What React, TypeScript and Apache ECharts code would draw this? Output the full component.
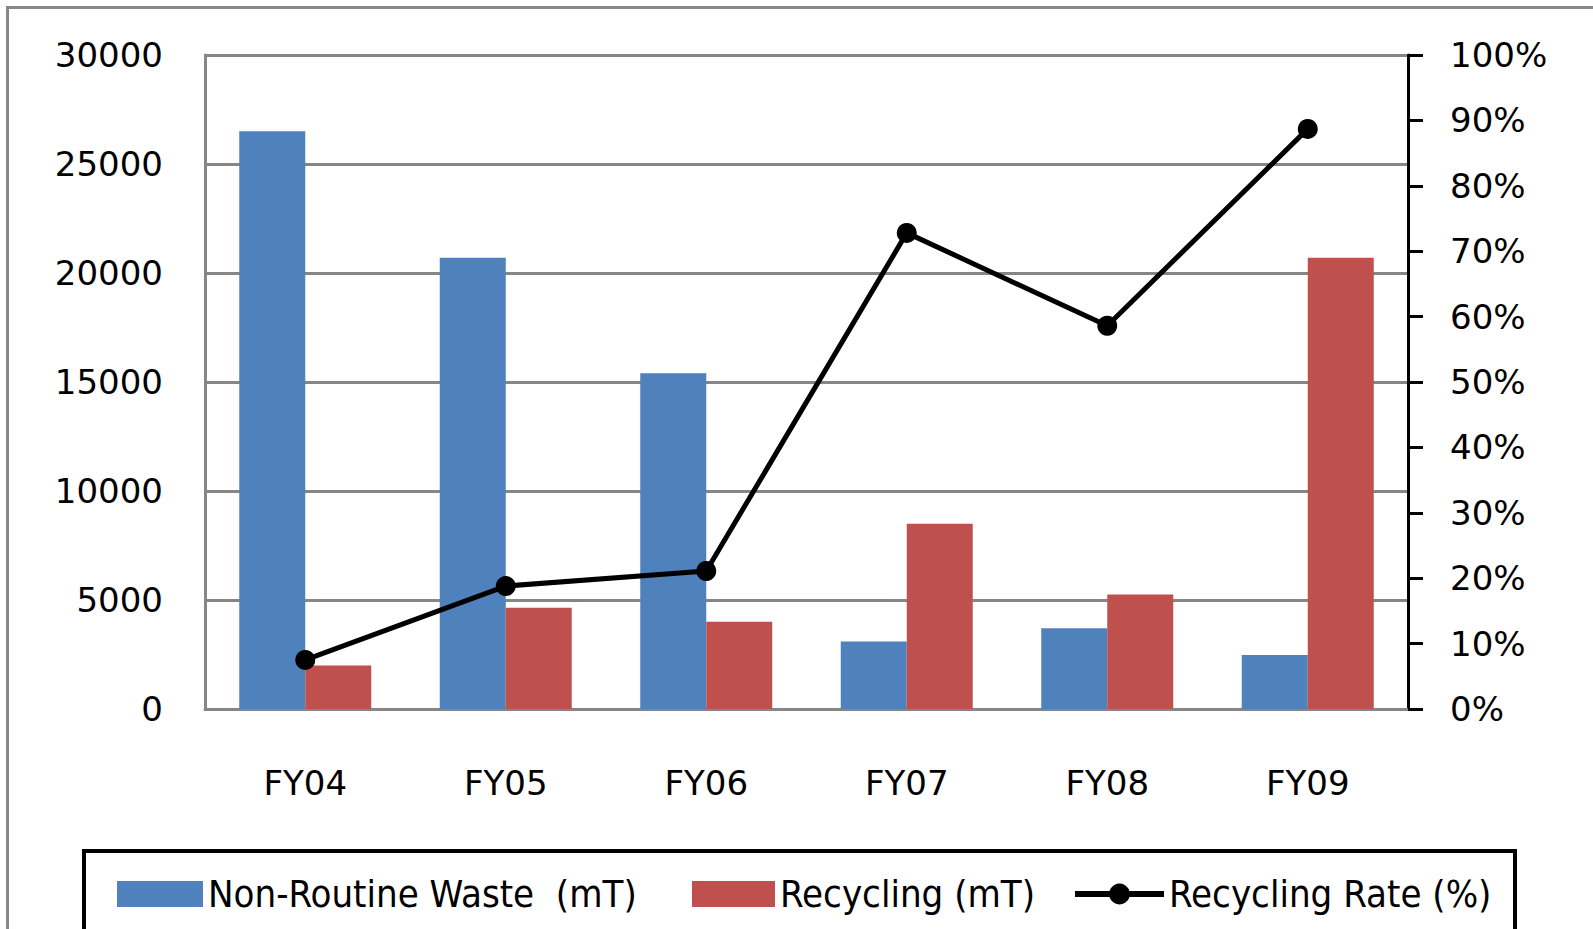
import React, { useEffect, useRef } from "react";
import * as echarts from "echarts";

const categories = ["FY04", "FY05", "FY06", "FY07", "FY08", "FY09"];
const nonRoutineWaste = [26500, 20700, 15400, 3100, 3700, 2480];
const recycling = [2000, 4650, 4000, 8500, 5250, 20700];
const recyclingRate = [7.5, 18.8, 21.1, 72.8, 58.6, 88.7];

const axisFont = "'DejaVu Sans', Verdana, sans-serif";
const legendFont = "'DejaVu Sans Condensed', 'Liberation Sans', sans-serif";

export default function App() {
  const ref = useRef<HTMLDivElement>(null);
  useEffect(() => {
    document.body.style.margin = "0";
    const chart = echarts.init(ref.current!, null, { renderer: "svg" });
    const legendText = { fontFamily: legendFont, fontSize: 38, color: "#000" };
    chart.setOption({
      animation: false,
      backgroundColor: "#fff",
      grid: { left: 205, right: 185, top: 55, bottom: 220, containLabel: false },
      graphic: [
        {
          type: "rect",
          shape: { x: 7.5, y: 7.5, width: 1700, height: 1100 },
          style: { fill: "none", stroke: "#888", lineWidth: 3 },
          silent: true,
        },
        {
          type: "rect",
          shape: { x: 84, y: 851, width: 1431, height: 200 },
          style: { fill: "none", stroke: "#000", lineWidth: 4 },
          silent: true,
        },
      ],
      legend: [
        {
          data: [{ name: "Non-Routine Waste  (mT)", icon: "rect" }],
          left: 117,
          top: 875,
          padding: 0,
          itemWidth: 86,
          itemHeight: 26,
          textStyle: legendText,
        },
        {
          data: [{ name: "Recycling (mT)", icon: "rect" }],
          left: 692,
          top: 875,
          padding: 0,
          itemWidth: 83,
          itemHeight: 26,
          textStyle: legendText,
        },
        {
          data: ["Recycling Rate (%)"],
          left: 1072,
          top: 875,
          padding: 0,
          itemWidth: 89,
          itemHeight: 26,
          lineStyle: { width: 6, color: "#000" },
          textStyle: legendText,
        },
      ],
      xAxis: {
        type: "category",
        data: categories,
        axisLine: { show: true, lineStyle: { color: "#868686", width: 3 } },
        axisTick: { show: false },
        axisLabel: { margin: 57, fontFamily: axisFont, fontSize: 34, color: "#000" },
      },
      yAxis: [
        {
          type: "value",
          min: 0,
          max: 30000,
          interval: 5000,
          axisLine: { show: true, lineStyle: { color: "#868686", width: 3 } },
          axisTick: { show: false },
          splitLine: { show: true, lineStyle: { color: "#868686", width: 3 } },
          axisLabel: {
            margin: 42,
            fontFamily: axisFont,
            fontSize: 34,
            color: "#000",
            formatter: (v: number) => String(v),
          },
        },
        {
          type: "value",
          min: 0,
          max: 100,
          interval: 10,
          position: "right",
          axisLine: { show: true, lineStyle: { color: "#000", width: 3 } },
          axisTick: { show: true, length: 15, lineStyle: { color: "#000", width: 3 } },
          splitLine: { show: false },
          axisLabel: {
            margin: 42,
            fontFamily: axisFont,
            fontSize: 34,
            color: "#000",
            formatter: "{value}%",
          },
        },
      ],
      series: [
        {
          name: "Non-Routine Waste  (mT)",
          type: "bar",
          data: nonRoutineWaste,
          barWidth: 66,
          barGap: "0%",
          itemStyle: { color: "#4F81BD" },
        },
        {
          name: "Recycling (mT)",
          type: "bar",
          data: recycling,
          barWidth: 66,
          barGap: "0%",
          itemStyle: { color: "#C0504D" },
        },
        {
          name: "Recycling Rate (%)",
          type: "line",
          yAxisIndex: 1,
          data: recyclingRate,
          symbol: "circle",
          symbolSize: 20,
          lineStyle: { color: "#000", width: 5 },
          itemStyle: { color: "#000" },
          z: 5,
        },
      ],
    });
    return () => chart.dispose();
  }, []);
  return (
    <div
      ref={ref}
      style={{ position: "absolute", left: 0, top: 0, width: 1593, height: 929 }}
    />
  );
}
